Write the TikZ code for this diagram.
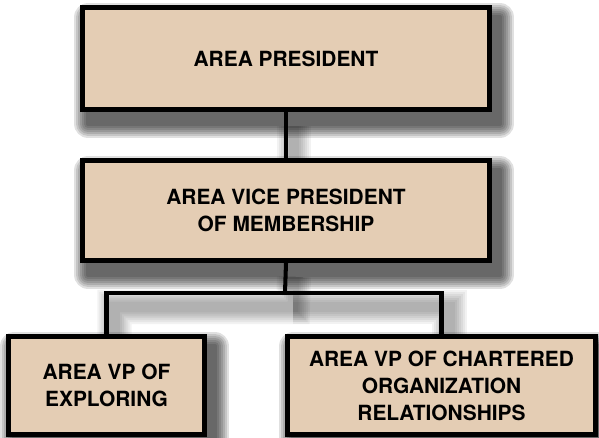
\documentclass[tikz,border=0pt]{standalone}
\usepackage{fontspec}
\setmainfont{TeX Gyre Heros}
\usetikzlibrary{backgrounds}
\definecolor{tan}{RGB}{228,205,180}

\begin{document}
\begin{tikzpicture}[x=0.02cm,y=-0.02cm,
  office/.style={fill=tan,draw=black,line width=2.8pt,align=center,
    font=\fontsize{11.9}{15.3}\selectfont\bfseries},
  link/.style={black,line width=2.3pt},
  haze/.style={fill=black,fill opacity=0.12}]
\useasboundingbox (0,0) rectangle (599,437);
\node[office,minimum width=8.14cm,minimum height=2.04cm] (pres) at (286,58.5) {AREA PRESIDENT};
\node[office,minimum width=8.14cm,minimum height=2cm] (vp) at (286,210.5) {AREA VICE PRESIDENT\\OF MEMBERSHIP};
\node[office,minimum width=3.92cm,minimum height=1.96cm] (expl) at (106.5,385.5) {AREA VP OF\\EXPLORING};
\node[office,minimum width=6.16cm,minimum height=1.96cm] (cor) at (441.5,385.5) {AREA VP OF CHARTERED\\ORGANIZATION\\RELATIONSHIPS};
\coordinate (bar) at (285,293);
\begin{pgfonlayer}{background}
% soft shadows
\foreach \r in {2,4,...,14} {
  \foreach \n in {pres,vp,expl,cor} {
    \path[haze,rounded corners=\r*0.02cm] ([xshift=(8-\r)*0.02cm,yshift=-(12-\r)*0.02cm]\n.north west) rectangle ([xshift=(8+\r)*0.02cm,yshift=-(12+\r)*0.02cm]\n.south east);
  }
  \begin{scope}[transform canvas={shift={(0.16cm,-0.28cm)}},draw=black,draw opacity=0.05,line width=4pt+\r*1.1pt]
    \draw (pres.south) -- (vp.north);
    \draw (vp.south) -- (bar) -| (expl.north);
    \draw (bar) -| (cor.north);
  \end{scope}
}
\draw[link] (pres.south) -- (vp.north);
\draw[link] (vp.south) -- (bar);
\draw[link] (bar) -| (expl.north);
\draw[link] (bar) -| (cor.north);
\end{pgfonlayer}
\end{tikzpicture}
\end{document}
